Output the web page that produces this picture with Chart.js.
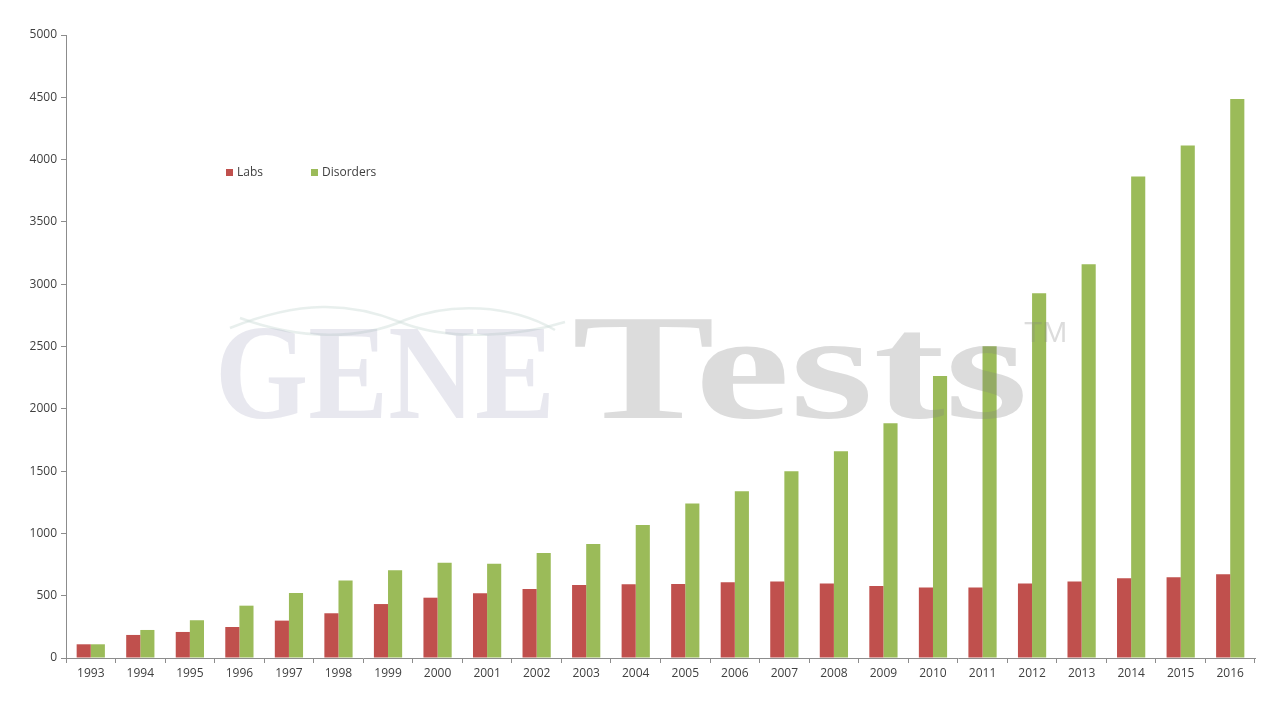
<!DOCTYPE html>
<html>
<head>
<meta charset="utf-8">
<script src="https://cdn.jsdelivr.net/npm/chart.js@4/dist/chart.umd.min.js"></script>
<style>
  html, body { margin: 0; padding: 0; background: #fff; }
  #wrap { width: 1280px; height: 720px; position: relative; }
</style>
</head>
<body>
<div id="wrap"><canvas id="barChart" width="1280" height="720"></canvas></div>
<script>
const years = ["1993","1994","1995","1996","1997","1998","1999","2000","2001","2002","2003","2004",
               "2005","2006","2007","2008","2009","2010","2011","2012","2013","2014","2015","2016"];
const labs = [110, 185, 209, 249, 300, 359, 433, 484, 519, 554, 586, 592,
              594, 608, 613, 597, 578, 565, 565, 598, 614, 640, 649, 672];
const disorders = [110, 225, 303, 420, 522, 621, 704, 765, 757, 843, 915, 1068,
                   1239, 1338, 1498, 1659, 1885, 2263, 2502, 2928, 3160, 3864, 4113, 4487];

const RED = "#c0504d";
const GREEN = "#9bbb59";
const AXIS = "#8c8c8c";
const TEXT = "#404040";
const FONT = "'Open Sans', 'DejaVu Sans', sans-serif";

// legend drawn inside the plot, like the original
const insideLegend = {
  id: "insideLegend",
  afterDraw(chart) {
    const ctx = chart.ctx;
    ctx.save();
    ctx.font = "12px " + FONT;
    ctx.textBaseline = "middle";
    const xs = [226, 311];
    chart.data.datasets.forEach((ds, i) => {
      ctx.fillStyle = ds.backgroundColor;
      ctx.fillRect(xs[i], 169, 7, 7);
      ctx.fillStyle = TEXT;
      ctx.fillText(ds.label, xs[i] + 11, 173);
    });
    ctx.restore();
  }
};

// faint GeneTests logo watermark on top of the bars
const watermark = {
  id: "watermark",
  afterDatasetsDraw(chart) {
    const ctx = chart.ctx;
    ctx.save();

    // swooshes over GENE
    ctx.strokeStyle = "rgba(205,220,215,0.45)";
    ctx.lineWidth = 2.5;
    ctx.beginPath();
    ctx.moveTo(230, 328);
    ctx.bezierCurveTo(300, 300, 350, 302, 400, 322);
    ctx.bezierCurveTo(450, 342, 520, 336, 565, 322);
    ctx.stroke();
    ctx.beginPath();
    ctx.moveTo(240, 318);
    ctx.bezierCurveTo(300, 340, 360, 340, 405, 320);
    ctx.bezierCurveTo(450, 302, 510, 304, 555, 330);
    ctx.stroke();

    ctx.textBaseline = "alphabetic";
    ctx.fillStyle = "rgba(165,165,190,0.25)";
    ctx.font = "bold 136px 'Liberation Serif', serif";
    let w = ctx.measureText("GENE").width;
    ctx.save();
    ctx.translate(215, 418);
    ctx.scale(340 / w, 1);
    ctx.fillText("GENE", 0, 0);
    ctx.restore();

    ctx.fillStyle = "rgba(130,130,130,0.28)";
    ctx.font = "bold 150px 'Liberation Serif', serif";
    w = ctx.measureText("Tests").width;
    ctx.save();
    ctx.translate(572, 418);
    ctx.scale(456 / w, 1);
    ctx.fillText("Tests", 0, 0);
    ctx.restore();

    ctx.font = "30px 'Liberation Sans', sans-serif";
    ctx.fillText("TM", 1024, 342);
    ctx.restore();
  }
};

const ctx = document.getElementById("barChart").getContext("2d");
new Chart(ctx, {
  type: "bar",
  data: {
    labels: years,
    datasets: [
      { label: "Labs", data: labs, backgroundColor: RED },
      { label: "Disorders", data: disorders, backgroundColor: GREEN }
    ]
  },
  options: {
    responsive: false,
    animation: false,
    maintainAspectRatio: false,
    layout: { padding: { top: 35, right: 25, bottom: 0, left: 0 } },
    datasets: { bar: { categoryPercentage: 0.57, barPercentage: 1.0 } },
    plugins: {
      legend: { display: false },
      tooltip: { enabled: false }
    },
    scales: {
      x: {
        grid: { drawOnChartArea: false, drawTicks: true, tickLength: 5, color: AXIS },
        border: { color: AXIS },
        ticks: { color: TEXT, font: { family: FONT, size: 12 }, padding: 3, maxRotation: 0 },
        afterFit: (s) => { s.height = 62; }
      },
      y: {
        min: 0,
        max: 5000,
        grid: { drawOnChartArea: false, drawTicks: true, tickLength: 5, color: AXIS },
        border: { color: AXIS },
        ticks: {
          stepSize: 500, color: TEXT, font: { family: FONT, size: 12 }, padding: 4,
          callback: (v) => String(v)
        },
        afterFit: (s) => { s.width = 66; }
      }
    }
  },
  plugins: [insideLegend, watermark]
});
</script>
</body>
</html>
